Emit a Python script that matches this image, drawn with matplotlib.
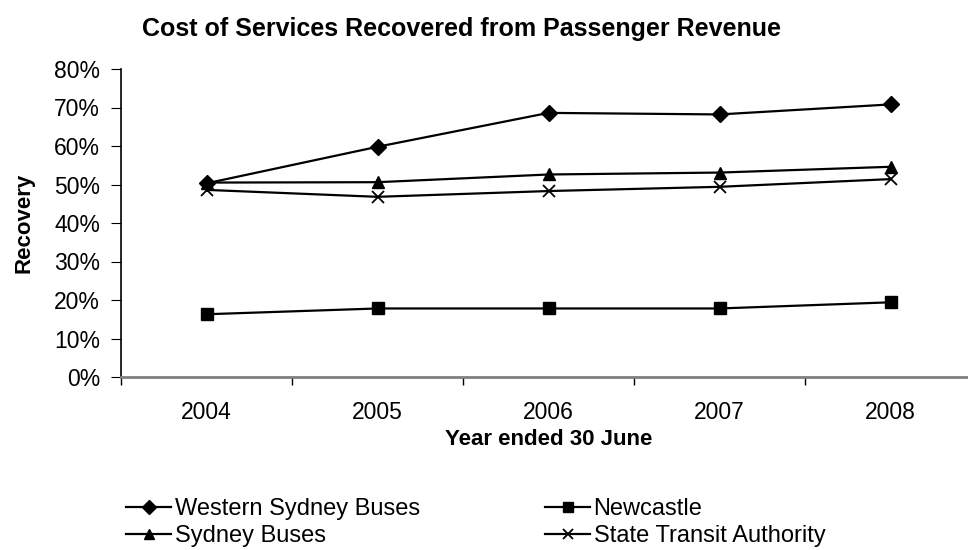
import matplotlib
matplotlib.use("Agg")
import matplotlib.pyplot as plt
from matplotlib.ticker import PercentFormatter

years = ["2004", "2005", "2006", "2007", "2008"]
western_sydney = [50.3, 59.8, 68.6, 68.2, 70.8]
newcastle = [16.3, 17.8, 17.8, 17.8, 19.4]
sydney_buses = [50.5, 50.6, 52.6, 53.1, 54.6]
sta = [48.6, 46.8, 48.3, 49.4, 51.4]

plt.rcParams['font.family'] = ['Liberation Sans', 'DejaVu Sans']

fig = plt.figure(figsize=(9.68, 5.5), dpi=100)
ax = fig.add_axes([121 / 968, 173 / 550, 855 / 968, 308 / 550])

x = list(range(1, len(years) + 1))
series = [
    ("Western Sydney Buses", western_sydney, dict(marker="D", markersize=8.5)),
    ("Newcastle", newcastle, dict(marker="s", markersize=8)),
    ("Sydney Buses", sydney_buses, dict(marker="^", markersize=9)),
    ("State Transit Authority", sta, dict(marker="x", markersize=8, markeredgewidth=1.3)),
]
handles = []
for name, vals, style in series:
    h, = ax.plot(x, vals, color="black", linewidth=1.6, label=name,
                 markerfacecolor="black", markeredgecolor="black", **style)
    handles.append(h)

ax.set_xlim(0.5, len(years) + 0.5)
ax.set_ylim(0, 80)
ax.set_yticks(range(0, 81, 10))
ax.yaxis.set_major_formatter(PercentFormatter(decimals=0))
ax.set_xticks([i + 0.5 for i in range(0, len(years) + 1)])
ax.set_xticklabels([])
ax.set_xticks(x, minor=True)
ax.set_xticklabels(years, minor=True)
ax.tick_params(axis="x", which="minor", length=0, pad=17, labelsize=16.5)
ax.tick_params(axis="x", which="major", length=6, direction="out", color="black", width=1)
ax.tick_params(axis="y", length=7, direction="out", labelsize=16.5, pad=8)

for side in ("top", "right"):
    ax.spines[side].set_visible(False)
ax.spines["left"].set_linewidth(1.2)
ax.spines["bottom"].set_color("#808080")
ax.spines["bottom"].set_linewidth(2)

fig.text(461 / 968, 1 - 29 / 550, "Cost of Services Recovered from Passenger Revenue",
         ha="center", va="center", fontsize=18, fontweight="bold")
ax.set_xlabel("Year ended 30 June", fontsize=16, fontweight="bold", labelpad=4)
ax.set_ylabel("Recovery", fontsize=16, fontweight="bold", labelpad=14)

fig.legend(handles=[handles[0], handles[2], handles[1], handles[3]],
           labels=[series[0][0], series[2][0], series[1][0], series[3][0]],
           ncol=2, loc="upper left", bbox_to_anchor=(117 / 968, 1 - 489 / 550),
           frameon=False, fontsize=17, handlelength=1.9, handletextpad=0.15,
           columnspacing=5.3, labelspacing=0.2, borderaxespad=0,
           markerscale=0.85)

fig.savefig("out.png", dpi=100)
